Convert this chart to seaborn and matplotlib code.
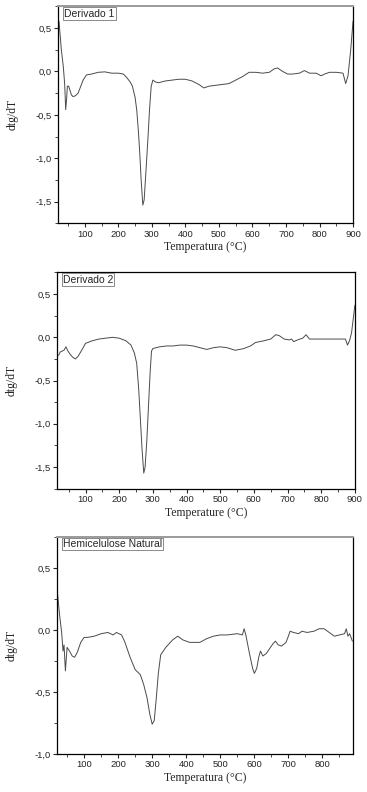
import numpy as np
import pandas as pd
import matplotlib
matplotlib.use("Agg")
import matplotlib.pyplot as plt
import seaborn as sns
from matplotlib.ticker import MultipleLocator

sns.set_style("ticks")
plt.rcParams['font.family'] = ['Liberation Sans', 'DejaVu Sans']

# Derivado 1
t1 = [23, 30, 36, 40, 43, 46, 48, 52, 56, 60, 65, 72, 80, 88, 95, 105, 120, 140,
      160, 180, 200, 215, 225, 235, 242, 250, 255, 260, 264, 268, 273, 277, 282,
      288, 293, 298, 303, 310, 320, 340, 360, 380, 400, 420, 440, 455, 470, 490,
      510, 530, 550, 570, 590, 610, 630, 650, 665, 675, 690, 705, 720, 740, 755,
      770, 790, 805, 815, 830, 850, 870, 878, 885, 893, 900]
d1 = [0.58, 0.25, 0.05, -0.15, -0.44, -0.30, -0.17, -0.17, -0.22, -0.27, -0.29,
      -0.28, -0.25, -0.17, -0.10, -0.04, -0.03, -0.01, -0.005, -0.02, -0.02,
      -0.03, -0.07, -0.12, -0.17, -0.30, -0.45, -0.70, -0.95, -1.25, -1.54,
      -1.48, -1.17, -0.79, -0.44, -0.17, -0.10, -0.12, -0.13, -0.11, -0.10,
      -0.09, -0.09, -0.11, -0.15, -0.19, -0.17, -0.16, -0.15, -0.14, -0.10,
      -0.06, -0.01, -0.01, -0.02, -0.01, 0.03, 0.04, 0.00, -0.03, -0.03, -0.02,
      0.01, -0.02, -0.02, -0.05, -0.03, -0.01, -0.01, -0.02, -0.14, -0.05,
      0.25, 0.58]

# Derivado 2
t2 = [20, 25, 30, 36, 42, 48, 55, 62, 70, 78, 90, 100, 120, 140, 160, 180, 200,
      220, 235, 245, 252, 258, 263, 268, 273, 277, 282, 287, 292, 296, 300, 320,
      340, 360, 380, 400, 420, 440, 460, 480, 500, 520, 545, 570, 590, 605, 630,
      650, 665, 675, 690, 705, 712, 718, 730, 745, 755, 765, 780, 800, 820, 840,
      860, 872, 878, 884, 890, 900]
d2 = [-0.21, -0.17, -0.16, -0.15, -0.11, -0.16, -0.20, -0.23, -0.25, -0.22,
      -0.14, -0.07, -0.04, -0.02, -0.01, 0.00, -0.01, -0.04, -0.09, -0.18,
      -0.30, -0.60, -0.95, -1.30, -1.57, -1.50, -1.20, -0.80, -0.40, -0.16,
      -0.13, -0.11, -0.10, -0.10, -0.09, -0.09, -0.10, -0.12, -0.14, -0.12,
      -0.11, -0.12, -0.15, -0.13, -0.10, -0.06, -0.04, -0.02, 0.03, 0.02, -0.02,
      -0.03, -0.02, -0.05, -0.03, -0.01, 0.03, -0.02, -0.02, -0.02, -0.02,
      -0.02, -0.02, -0.02, -0.09, -0.04, 0.05, 0.37]

# Hemicelulose Natural
t3 = [22, 28, 34, 38, 41, 45, 50, 57, 65, 72, 80, 90, 100, 110, 130, 150, 170,
      185, 195, 210, 220, 235, 250, 265, 275, 285, 293, 300, 306, 312, 318, 325,
      340, 360, 375, 390, 410, 440, 460, 480, 500, 520, 550, 565, 570, 575, 585,
      595, 600, 607, 613, 618, 625, 635, 645, 655, 662, 670, 680, 693, 700, 705,
      715, 730, 740, 755, 775, 790, 805, 820, 835, 850, 865, 870, 875, 880, 888]
d3 = [0.29, 0.12, -0.02, -0.17, -0.12, -0.33, -0.14, -0.17, -0.21, -0.22,
      -0.18, -0.10, -0.06, -0.06, -0.05, -0.03, -0.02, -0.04, -0.02, -0.04,
      -0.10, -0.22, -0.32, -0.36, -0.44, -0.55, -0.68, -0.76, -0.73, -0.55,
      -0.35, -0.20, -0.14, -0.08, -0.05, -0.08, -0.10, -0.10, -0.07, -0.05,
      -0.04, -0.04, -0.03, -0.04, 0.01, -0.04, -0.18, -0.31, -0.35, -0.31,
      -0.22, -0.17, -0.21, -0.19, -0.15, -0.11, -0.09, -0.12, -0.13, -0.10,
      -0.05, -0.01, -0.02, -0.03, -0.01, -0.02, -0.01, 0.01, 0.01, -0.02,
      -0.05, -0.04, -0.03, 0.01, -0.05, -0.03, -0.09]

panels = [
    ("Derivado 1", t1, d1, (20, 900), (-1.75, 0.75), "Temperatura (°C)", "#9a9a9a"),
    ("Derivado 2", t2, d2, (15, 900), (-1.75, 0.75), "Temperature (°C)", "black"),
    ("Hemicelulose Natural", t3, d3, (20, 890), (-1.0, 0.75), "Temperatura (°C)", "#9a9a9a"),
]
boxes = [[0.158, 0.718, 0.804, 0.274],
         [0.155, 0.383, 0.812, 0.273],
         [0.155, 0.048, 0.807, 0.274]]

fig = plt.figure(figsize=(3.67, 7.92), dpi=100)
for (name, t, d, xl, yl, xlab, topc), box in zip(panels, boxes):
    ax = fig.add_axes(box)
    df = pd.DataFrame({"T": t, "dtg": d})
    sns.lineplot(data=df, x="T", y="dtg", ax=ax, color="#4a4a4a", lw=0.7)
    ax.set_xlim(*xl)
    ax.set_ylim(*yl)
    ax.xaxis.set_major_locator(MultipleLocator(100))
    ax.xaxis.set_minor_locator(MultipleLocator(50))
    ax.yaxis.set_major_locator(MultipleLocator(0.5))
    ax.yaxis.set_minor_locator(MultipleLocator(0.25))
    ax.yaxis.set_major_formatter(plt.FuncFormatter(lambda v, p: f"{v:.1f}".replace(".", ",")))
    ax.tick_params(which="major", direction="out", length=3, width=0.8, labelsize=6.8, pad=1.5)
    ax.tick_params(which="minor", direction="out", length=2, width=0.6)
    for s in ["left", "bottom", "right"]:
        ax.spines[s].set_linewidth(0.9)
        ax.spines[s].set_color("black")
    ax.spines["top"].set_color(topc)
    ax.spines["top"].set_linewidth(1.4 if topc != "black" else 0.9)
    ax.set_xlabel(xlab, family=["Liberation Serif"], fontsize=8.5, labelpad=2)
    ax.set_ylabel("dtg/dT", family=["Liberation Serif"], fontsize=8.5, labelpad=12)
    ax.text(0.02, 0.99, name, transform=ax.transAxes, ha="left", va="top", fontsize=7.5,
            bbox=dict(boxstyle="square,pad=0.12", fc="white", ec="#777777", lw=0.6))

fig.savefig("out.png", dpi=100)
